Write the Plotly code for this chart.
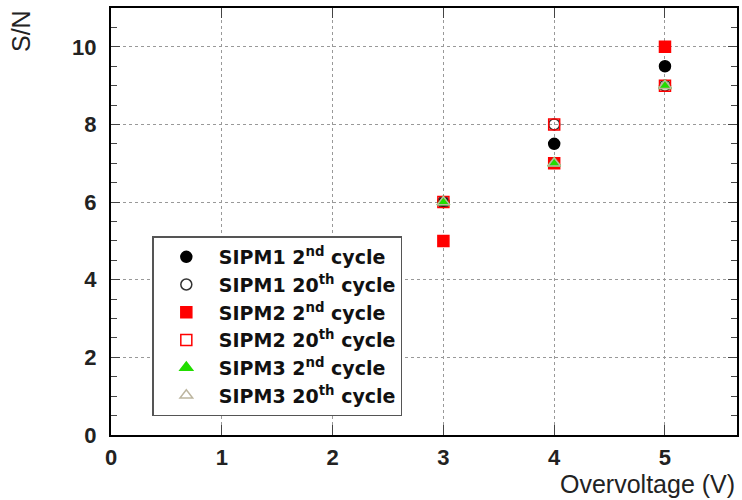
import plotly.graph_objects as go

overvoltage = [3, 4, 5]
sipm1_2nd = [6, 7.5, 9.5]
sipm1_20th = [6, 8, 9]
sipm2_2nd = [5, 7, 10]
sipm2_20th = [6, 8, 9]
sipm3_2nd = [6, 7, 9]
sipm3_20th = [6, 7, 9]

series = [
    ("SIPM1 2<sup>nd</sup> cycle", sipm1_2nd, "circle", "black", 11),
    ("SIPM1 20<sup>th</sup> cycle", sipm1_20th, "circle-open", "#333333", 11),
    ("SIPM2 2<sup>nd</sup> cycle", sipm2_2nd, "square", "red", 11),
    ("SIPM2 20<sup>th</sup> cycle", sipm2_20th, "square-open", "red", 11),
    ("SIPM3 2<sup>nd</sup> cycle", sipm3_2nd, "triangle-up", "#22dd00", 11),
    ("SIPM3 20<sup>th</sup> cycle", sipm3_20th, "triangle-up-open", "#bdb6a0", 11),
]

fig = go.Figure()
for name, ys, sym, col, sz in series:
    fig.add_trace(go.Scatter(
        x=overvoltage, y=ys, mode="markers", name=name,
        marker=dict(symbol=sym, color=col, size=sz, line=dict(color=col, width=1.5)),
    ))

FONT = "Liberation Sans, Arial, sans-serif"
axis_font = dict(family=FONT, size=22, color="#222222", weight="bold")

fig.update_layout(
    width=742, height=500,
    margin=dict(l=111, r=3, t=8, b=65),
    paper_bgcolor="white", plot_bgcolor="white",
    showlegend=True,
    legend=dict(
        x=0.066, y=0.465, xanchor="left", yanchor="top",
        bgcolor="white", bordercolor="#555555", borderwidth=1.5,
        font=dict(family="DejaVu Sans, sans-serif", size=19, color="#111111", weight="bold"),
        tracegroupgap=0, itemwidth=55,
    ),
    xaxis=dict(
        range=[0, 5.65], dtick=1, tick0=0,
        showgrid=True, gridcolor="#999999", griddash="dot", gridwidth=1,
        zeroline=False, showline=True, linecolor="black", linewidth=2, mirror="ticks",
        ticks="inside", ticklen=10, tickcolor="#444444", tickwidth=1,
        tickfont=axis_font, ticklabelstandoff=2,
    ),
    yaxis=dict(
        range=[0, 11], dtick=2, tick0=0,
        showgrid=True, gridcolor="#999999", griddash="dot", gridwidth=1,
        zeroline=False, showline=True, linecolor="black", linewidth=2, mirror="ticks",
        ticks="inside", ticklen=9, tickcolor="#444444", tickwidth=1,
        minor=dict(dtick=0.5, ticks="inside", ticklen=6, tickcolor="#444444", showgrid=False),
        tickfont=axis_font, ticklabelstandoff=8,
    ),
    annotations=[
        dict(text="Overvoltage (V)", xref="paper", yref="paper", x=1.0, y=0, yshift=-33,
             xanchor="right", yanchor="top", showarrow=False,
             font=dict(family=FONT, size=25, color="#222222")),
        dict(text="S/N", xref="paper", yref="paper", x=0, y=1.0, xshift=-90,
             xanchor="center", yanchor="top", textangle=-90, showarrow=False,
             font=dict(family=FONT, size=25, color="#222222")),
    ],
)

fig.write_html("out.html")
